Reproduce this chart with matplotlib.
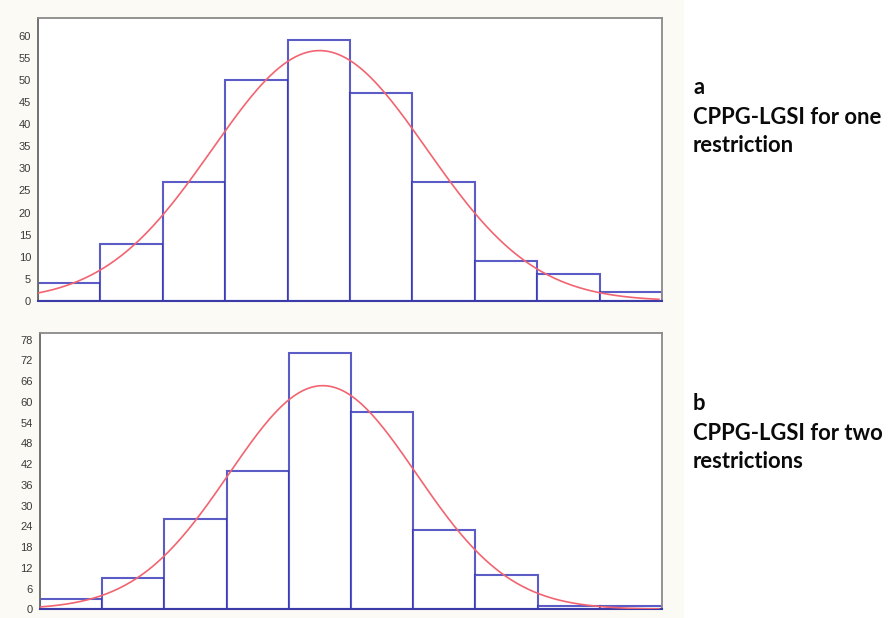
import numpy as np
import matplotlib
matplotlib.use("Agg")
import matplotlib.pyplot as plt
from matplotlib.patches import Rectangle

# Data
bin_edges = np.arange(0, 11)  # 10 equal-width classes
counts_a = [4, 13, 27, 50, 59, 47, 27, 9, 6, 2]
counts_b = [3, 9, 26, 40, 74, 57, 23, 10, 1, 1]
yticks_a = [0, 5, 10, 15, 20, 25, 30, 35, 40, 45, 50, 55, 60]
yticks_b = [0, 6, 12, 18, 24, 30, 36, 42, 48, 54, 60, 66, 72, 78]
label_a = ["a", "CPPG-LGSI for one", "restriction"]
label_b = ["b", "CPPG-LGSI for two", "restrictions"]

W, H = 889, 618
fig = plt.figure(figsize=(W / 100, H / 100), dpi=100)
fig.patch.set_facecolor("white")
fig.patches.append(Rectangle((0, 0), 684 / W, 1, transform=fig.transFigure,
                             facecolor="#fbfaf4", edgecolor="none", zorder=-10))

bar_edge = (0.2, 0.2, 0.72, 0.8)
curve_col = "#f26470"


def panel(rect, counts, yticks, ymax):
    ax = fig.add_axes(rect)
    ax.set_facecolor("white")
    edges = np.array(bin_edges, dtype=float)
    widths = np.diff(edges)
    ax.bar(edges[:-1], counts, width=widths, align="edge", facecolor="white",
           edgecolor=bar_edge, linewidth=1.5, zorder=2)
    # fitted normal curve from the histogram
    c = np.array(counts, dtype=float)
    centers = (edges[:-1] + edges[1:]) / 2
    n = c.sum()
    mu = (c * centers).sum() / n
    sd = np.sqrt((c * (centers - mu) ** 2).sum() / n)
    xs = np.linspace(edges[0], edges[-1] - 0.05, 300)
    ys = n * widths[0] / (sd * np.sqrt(2 * np.pi)) * np.exp(-0.5 * ((xs - mu) / sd) ** 2)
    ax.plot(xs, ys, color=curve_col, lw=1.2, zorder=3)
    ax.set_xlim(edges[0], edges[-1])
    ax.set_ylim(0, ymax)
    ax.set_xticks([])
    ax.set_yticks(yticks)
    ax.set_yticklabels([str(t) for t in yticks], fontsize=8, color="#3a3a3a",
                       family="Liberation Sans")
    ax.tick_params(axis="y", length=0, pad=5)
    for s in ["top", "right", "left"]:
        ax.spines[s].set_color("#8a8a8a")
        ax.spines[s].set_linewidth(1.3)
    ax.spines["left"].set_color("#666666")
    ax.spines["bottom"].set_color("#3a3aa8")
    ax.spines["bottom"].set_linewidth(1.5)
    return ax


panel([38 / W, 1 - 301 / H, 624 / W, 283 / H], counts_a, yticks_a, 64)
panel([40 / W, 1 - 609.3 / H, 622 / W, 276.6 / H], counts_b, yticks_b, 80)

txt_kw = dict(fontsize=15.8, fontweight="bold", color="#0a0a0a", family="Lato",
              ha="left", va="center")
for txt, y in zip(label_a, [88, 117, 145]):
    fig.text(693 / W, 1 - y / H, txt, **txt_kw)
for txt, y in zip(label_b, [403, 433, 461]):
    fig.text(693 / W, 1 - y / H, txt, **txt_kw)

fig.savefig("out.png", dpi=100)
